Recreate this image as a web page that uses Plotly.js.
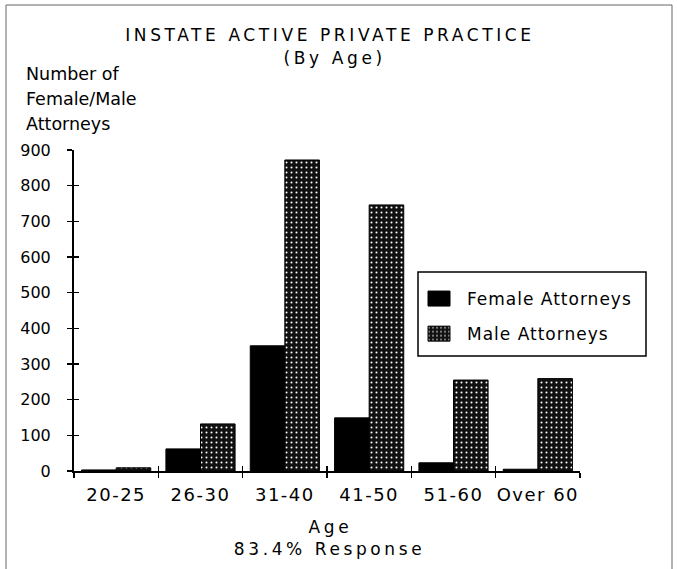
<!DOCTYPE html>
<html>
<head>
<meta charset="utf-8">
<script src="https://cdn.plot.ly/plotly-3.0.1.min.js"></script>
<style>
html,body{margin:0;padding:0;background:#fff;}
#chart{width:677px;height:569px;}
.xtick text{letter-spacing:1.5px;}
.legendtext{letter-spacing:1px;}
</style>
</head>
<body>
<div id="chart"></div>
<script>
const categories = ["20-25", "26-30", "31-40", "41-50", "51-60", "Over 60"];
const femaleValues = [3, 62, 351, 149, 23, 5];
const maleValues = [9, 132, 872, 746, 255, 259];
const yTicks = [0, 100, 200, 300, 400, 500, 600, 700, 800, 900];

const FONT = "DejaVu Sans";
const L = 74, R = 580, T = 150, B = 471;
const W = R - L, H = B - T;
const px = v => (v - L) / W;
const py = v => (B - v) / H;

const traces = [
  {
    type: "bar", name: "Female Attorneys", x: categories, y: femaleValues,
    legendgroup: "f",
    marker: {color: "#000", line: {color: "#000", width: 1}},
    hoverinfo: "skip"
  },
  {
    type: "bar", name: "Male Attorneys", x: categories, y: maleValues,
    legendgroup: "m",
    marker: {color: "#111", line: {color: "#000", width: 1},
      pattern: {shape: ".", fgcolor: "#ffffff", bgcolor: "#111", size: 5, solidity: 0.13}},
    hoverinfo: "skip"
  },
  {type: "scatter", x: [0], y: [0], xaxis: "x2", yaxis: "y2", mode: "markers",
   marker: {opacity: 0}, showlegend: false, hoverinfo: "skip"}
];

const wideFont = {family: FONT, size: 17, color: "#000"};

const layout = {
  width: 677, height: 569,
  margin: {l: L, r: 677 - R, t: T, b: 569 - B},
  paper_bgcolor: "#fff", plot_bgcolor: "#fff",
  font: {family: FONT, color: "#000", size: 16},
  bargap: 0.18, bargroupgap: 0,
  barmode: "group",
  showlegend: true,
  xaxis: {
    type: "category", range: [-0.5, 5.5],
    showline: true, linecolor: "#000", linewidth: 2,
    ticks: "outside", tickson: "boundaries", ticklen: 5, tickwidth: 1.5, tickcolor: "#000",
    showgrid: false, zeroline: false,
    tickfont: {family: FONT, size: 18}, ticklabelstandoff: 6
  },
  yaxis: {
    range: [0, 900], tickvals: yTicks,
    showline: true, linecolor: "#000", linewidth: 2,
    ticks: "outside", ticklen: 5, tickwidth: 1.5, tickcolor: "#000",
    showgrid: false, zeroline: false,
    tickfont: {family: FONT, size: 16}, ticklabelstandoff: 13
  },
  xaxis2: {
    overlaying: "x", range: [-0.5, 5.5], tickvals: [0.5, 1.5, 2.5, 3.5, 4.5, 5.5],
    ticks: "inside", ticklen: 5, tickwidth: 1.5, tickcolor: "#000",
    showticklabels: false, showgrid: false, zeroline: false, showline: false
  },
  yaxis2: {
    overlaying: "y", range: [0, 900], tickvals: yTicks,
    ticks: "inside", ticklen: 5, tickwidth: 1.5, tickcolor: "#000",
    showticklabels: false, showgrid: false, zeroline: false, showline: false
  },
  legend: {
    x: px(419), y: py(281), xanchor: "left", yanchor: "top",
    bgcolor: "rgba(0,0,0,0)", borderwidth: 0,
    font: {family: FONT, size: 17},
    itemwidth: 38, tracegroupgap: 10
  },
  shapes: [
    {type: "rect", xref: "paper", yref: "paper",
     x0: px(6), x1: px(672), y0: py(580), y1: py(5),
     line: {color: "#666", width: 1}, fillcolor: "rgba(0,0,0,0)", layer: "below"},
    {type: "rect", xref: "paper", yref: "paper",
     x0: px(418), x1: px(646), y0: py(356), y1: py(272),
     line: {color: "#000", width: 1.5}, fillcolor: "#fff", layer: "below"}
  ],
  annotations: [
    {text: "INSTATE ACTIVE PRIVATE PRACTICE", x: px(330), y: py(35), font: wideFont, xanchor: "center", wide: true},
    {text: "(By Age)", x: px(334), y: py(58), font: wideFont, xanchor: "center", wide: true},
    {text: "Age", x: px(330), y: py(527), font: wideFont, xanchor: "center", wide: true},
    {text: "83.4% Response", x: px(329), y: py(549), font: wideFont, xanchor: "center", wide: true},
    {text: "Number of", x: px(24), y: py(74), font: {family: FONT, size: 17.5}, xanchor: "left"},
    {text: "Female/Male", x: px(24), y: py(99), font: {family: FONT, size: 17.5}, xanchor: "left"},
    {text: "Attorneys", x: px(24), y: py(124), font: {family: FONT, size: 17.5}, xanchor: "left"}
  ].map(a => Object.assign({xref: "paper", yref: "paper", showarrow: false, yanchor: "middle"}, a))
};

const wideIdx = layout.annotations.map((a, i) => a.wide ? i : -1).filter(i => i >= 0);
layout.annotations.forEach(a => delete a.wide);

const gd = document.getElementById("chart");
const style = document.createElement("style");
style.textContent = wideIdx.map(i => `.annotation[data-index="${i}"] .annotation-text{letter-spacing:3.6px;}`).join("\n");
document.head.appendChild(style);

Plotly.newPlot(gd, traces, layout, {displayModeBar: false, staticPlot: true}).then(() => {
  // enlarge legend swatches (styling only)
  gd.querySelectorAll(".legendpoints path").forEach(p => {
    p.setAttribute("d", "M7,7.5H-15V-7.5H7Z");
  });
});
</script>
</body>
</html>
